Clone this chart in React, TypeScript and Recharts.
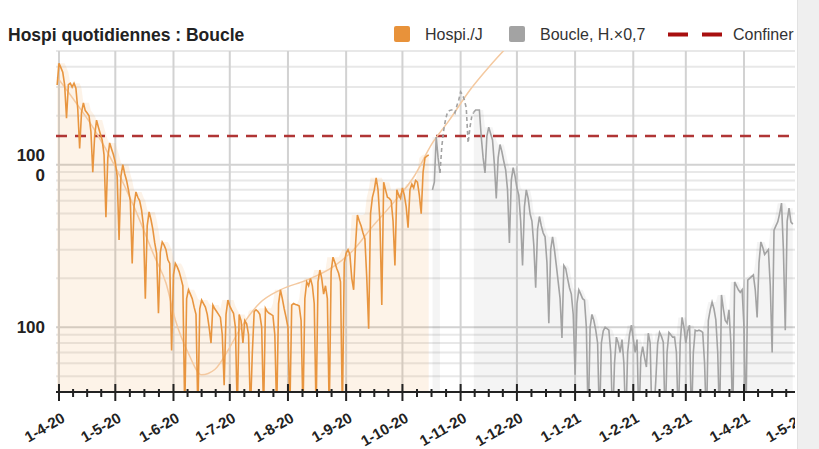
import React from 'react';
import {
  ComposedChart,
  Line,
  Area,
  XAxis,
  YAxis,
  CartesianGrid,
  ReferenceLine,
} from 'recharts';

// day 0 = 1 April 2020, data begins on 31 March
const firstDay = -1;
const hospiValues = [
  3090, 4200, 3950, 3700, 3100, 1930,
  3100, 3170, 3000, 3170, 2950, 2200, 1260,
  2100, 2400, 2150, 2080, 2000, 1600, 900,
  1500, 1880, 1700, 1550, 1420, 1150, 475,
  1100, 1360, 1250, 1150, 1030, 850, 344,
  850, 1000, 880, 800, 700, 600, 247,
  560, 680, 630, 600, 526, 420, 150,
  420, 512, 460, 400, 330, 285, 122,
  290, 335, 320, 300, 260, 247, 72,
  210, 247, 235, 220, 200, 180, 30,
  150, 170, 160, 150, 133, 120, 30,
  130, 147, 140, 133, 120, 100, 80,
  137, 130, 125, 120, 115, 90, 44,
  120, 147, 135, 128, 122, 100, 30,
  120, 110, 80, 110, 105, 90, 30,
  69, 125, 128, 125, 120, 100, 30,
  131, 125, 122, 120, 118, 90, 30,
  140, 170, 150, 130, 115, 100, 30,
  137, 140, 138, 137, 135, 110, 30,
  150, 190, 180, 200, 180, 140, 30,
  190, 225, 200, 160, 180, 150, 30,
  220, 270, 250, 230, 215, 190, 30,
  250, 285, 300, 280, 200, 170, 320,
  490, 450, 420, 380, 350, 200, 98,
  500, 630, 700, 830, 700, 450, 137,
  780, 700, 630, 620, 600, 450, 240,
  700, 650, 620, 720, 650, 550, 410,
  700, 760, 720, 800, 780, 650, 500,
  900, 1100, 1130, 1150,
];

// "Boucle, H.x0,7" starts on day 199
const boucleStart = 199;
const boucleDashFrom = 203;
const boucleDashTo = 221;
const boucleValues = [
  700, 780, 1480, 1100, 890,
  1300, 1634, 1900, 2100, 2150, 2170, 2170, 2080, 2300, 2500, 2800, 2700, 2500, 2240, 1360, 1700, 2000, 2100,
  2170, 2170, 2170, 1480, 1100, 890,
  1500, 1700, 1550, 1418, 1000, 620,
  1100, 1330, 1200, 1050, 930, 700, 330,
  800, 960, 850, 720, 650, 450, 240,
  550, 700, 620, 500, 450, 320, 175,
  400, 480, 420, 380, 360, 250, 106,
  300, 360, 300, 240, 190, 150, 86,
  240, 230, 200, 175, 160, 120, 51,
  140, 170, 160, 150, 147, 100, 25,
  100, 120, 110, 96, 80, 25,
  80, 95, 100, 98, 96, 70, 25,
  60, 87, 80, 70, 84, 60, 25,
  70, 90, 103, 85, 70, 84, 25,
  65, 76, 65, 57, 92, 80, 25,
  30, 47, 80, 93, 88, 81, 25,
  70, 93, 90, 87, 87, 70, 25,
  80, 115, 100, 80, 95, 103, 25,
  70, 96, 95, 96, 95, 93, 60, 25,
  110, 128, 143, 130, 111, 70, 25,
  158, 130, 110, 106, 128, 80, 25,
  190, 180, 170, 164, 170, 100, 25,
  195, 200, 205, 210, 170, 115,
  250, 335, 310, 280, 290, 300, 180, 70,
  396, 420, 445, 500, 580, 300, 96,
  450, 540, 445, 430,
];

const trendDays = [-1, 8, 19, 30, 40, 51, 57, 62, 69, 76, 83, 90, 97, 107, 118, 132, 146, 157, 167, 178, 189, 199, 208, 219, 230, 242];
const trendValues = [3450, 2500, 1634, 970, 550, 270, 187, 111, 69, 51, 55, 72, 100, 141, 170, 195, 235, 300, 416, 580, 840, 1360, 1880, 2880, 4100, 5800];

const confinerLevel = 1500;

const monthStarts = [0, 30, 61, 91, 122, 153, 183, 214, 244, 275, 306, 334, 365, 395, 425];
const monthLabels = ['1-4-20', '1-5-20', '1-6-20', '1-7-20', '1-8-20', '1-9-20', '1-10-20', '1-11-20', '1-12-20', '1-1-21', '1-2-21', '1-3-21', '1-4-21', '1-5-21', '1-6-21'];

const yTicks = [100, 1000];
const minorLevels = [50, 60, 70, 80, 90, 200, 300, 400, 500, 600, 700, 800, 900, 2000, 3000, 4000, 5000];

const lastDay = boucleStart + boucleValues.length - 1;

const rows: any[] = [];
for (let d = firstDay; d <= lastDay; d++) rows.push({ day: d });
hospiValues.forEach((v, i) => {
  rows[i].hospi = v;
});
boucleValues.forEach((v, i) => {
  const d = boucleStart + i;
  const r = rows[d - firstDay];
  if (d >= boucleDashFrom && d <= boucleDashTo) r.boucleDash = v;
  if (d <= boucleDashFrom || d >= boucleDashTo) r.boucle = v;
});
trendDays.forEach((d, i) => {
  if (d - firstDay < rows.length) rows[d - firstDay].trend = trendValues[i];
  else rows.push({ day: d, trend: trendValues[i] });
});
// shaded areas follow the weekly highs
const envelope = (key: string, out: string, w: number) => {
  rows.forEach((r, i) => {
    if (r[key] == null) return;
    let m = 0;
    for (let j = Math.max(0, i - w); j <= Math.min(rows.length - 1, i + w); j++) {
      if (rows[j][key] != null) m = Math.max(m, rows[j][key]);
    }
    r[out] = m;
  });
};
envelope('hospi', 'hospiEnv', 3);
envelope('boucle', 'boucleEnv', 2);

const minorTicks: number[] = [];
for (let i = 0; i < monthStarts.length - 1; i++) {
  const len = monthStarts[i + 1] - monthStarts[i];
  for (let k = 1; k < 4; k++) minorTicks.push(monthStarts[i] + (len * k) / 4);
}
const xTicks = [...monthStarts, ...minorTicks].sort((a, b) => a - b);

const font = '"Liberation Sans", Arial, sans-serif';

const XTick = (props: any) => {
  const { x, y, payload } = props;
  const i = monthStarts.indexOf(payload.value);
  if (i < 0) {
    return <line x1={x} x2={x} y1={y - 3} y2={y + 5} stroke="#222" strokeWidth={2} />;
  }
  const tx = x + 7;
  const ty = y + 29;
  return (
    <g>
      <line x1={x} x2={x} y1={y - 8} y2={y + 9} stroke="#222" strokeWidth={2} />
      <text
        x={tx}
        y={ty}
        transform={`rotate(-30 ${tx} ${ty})`}
        textAnchor="end"
        fontFamily={font}
        fontWeight="bold"
        fontSize={15}
        fill="#222"
      >
        {monthLabels[i]}
      </text>
    </g>
  );
};

const YTick = (props: any) => {
  const { x, y, payload } = props;
  const common = { fontFamily: font, fontWeight: 'bold', fontSize: 17, fill: '#222', textAnchor: 'end' as const };
  if (payload.value === 1000) {
    return (
      <g>
        <text x={x - 11} y={y - 4} {...common}>100</text>
        <text x={x - 11} y={y + 16} {...common}>0</text>
      </g>
    );
  }
  return (
    <text x={x - 11} y={y + 6} {...common}>
      {payload.value}
    </text>
  );
};

export default function App() {
  return (
    <div style={{ position: 'fixed', left: 0, top: 0, width: 819, height: 449, background: '#fff' }}>
      <div style={{ position: 'absolute', left: 0, top: 0, width: 795, height: 449, overflow: 'hidden' }}>
        <ComposedChart
          width={820}
          height={449}
          data={rows}
          margin={{ top: 51, right: 0, bottom: 7, left: 0 }}
        >
          <CartesianGrid
            horizontalValues={minorLevels}
            vertical={false}
            stroke="#e8e8e8"
            strokeWidth={2}
          />
          <CartesianGrid
            horizontalValues={yTicks}
            verticalValues={monthStarts}
            stroke="#d2d2d2"
            strokeWidth={2}
          />
          <XAxis
            dataKey="day"
            type="number"
            domain={[-1.6, 405.5]}
            ticks={xTicks}
            interval={0}
            tick={<XTick />}
            tickLine={false}
            tickSize={0}
            tickMargin={0}
            axisLine={{ stroke: '#222', strokeWidth: 2 }}
            height={50}
            allowDataOverflow
          />
          <YAxis
            type="number"
            scale="log"
            domain={[40, 5000]}
            ticks={yTicks}
            interval={0}
            allowDataOverflow
            axisLine={false}
            tickLine={false}
            tickSize={0}
            tickMargin={0}
            tick={<YTick />}
            width={56}
          />
          <Area
            dataKey="hospiEnv"
            type="linear"
            stroke="none"
            fill="#f0a050"
            fillOpacity={0.13}
            isAnimationActive={false}
          />
          <Area
            dataKey="boucleEnv"
            type="linear"
            stroke="none"
            fill="#000000"
            fillOpacity={0.045}
            isAnimationActive={false}
          />
          <ReferenceLine
            y={confinerLevel}
            stroke="#b03535"
            strokeWidth={2.5}
            strokeDasharray="11 8"
          />
          <Line
            dataKey="trend"
            type="monotone"
            stroke="#f4c9a0"
            strokeWidth={1.5}
            dot={false}
            connectNulls
            isAnimationActive={false}
          />
          <Line
            dataKey="hospi"
            type="linear"
            stroke="#e8953f"
            strokeWidth={1.6}
            dot={false}
            isAnimationActive={false}
          />
          <Line
            dataKey="boucleDash"
            type="linear"
            stroke="#a3a3a3"
            strokeWidth={1.6}
            strokeDasharray="4 3"
            dot={false}
            isAnimationActive={false}
          />
          <Line
            dataKey="boucle"
            type="linear"
            stroke="#a3a3a3"
            strokeWidth={1.6}
            dot={false}
            isAnimationActive={false}
          />
        </ComposedChart>
        <svg width={795} height={50} style={{ position: 'absolute', left: 0, top: 0 }}>
          <text x={8} y={40.5} fontFamily={font} fontWeight="bold" fontSize={17.5} fill="#222">
            Hospi quotidiennes : Boucle
          </text>
          <rect x={394} y={26} width={16} height={16} rx={2} fill="#e8923a" />
          <text x={425} y={40} fontFamily={font} fontSize={16} fill="#333">Hospi./J</text>
          <rect x={509} y={26} width={16} height={16} rx={2} fill="#a3a3a3" />
          <text x={540} y={40} fontFamily={font} fontSize={16} fill="#333">Boucle, H.×0,7</text>
          <rect x={668} y={32.5} width={20} height={4} fill="#a80f0f" />
          <rect x={702} y={32.5} width={20} height={4} fill="#a80f0f" />
          <text x={733} y={40} fontFamily={font} fontSize={16} fill="#333">Confiner</text>
        </svg>
      </div>
      <div
        style={{
          position: 'absolute',
          left: 797,
          top: 0,
          width: 22,
          height: 449,
          background: '#efefef',
          borderLeft: '1px solid #e2e2e2',
        }}
      />
    </div>
  );
}
